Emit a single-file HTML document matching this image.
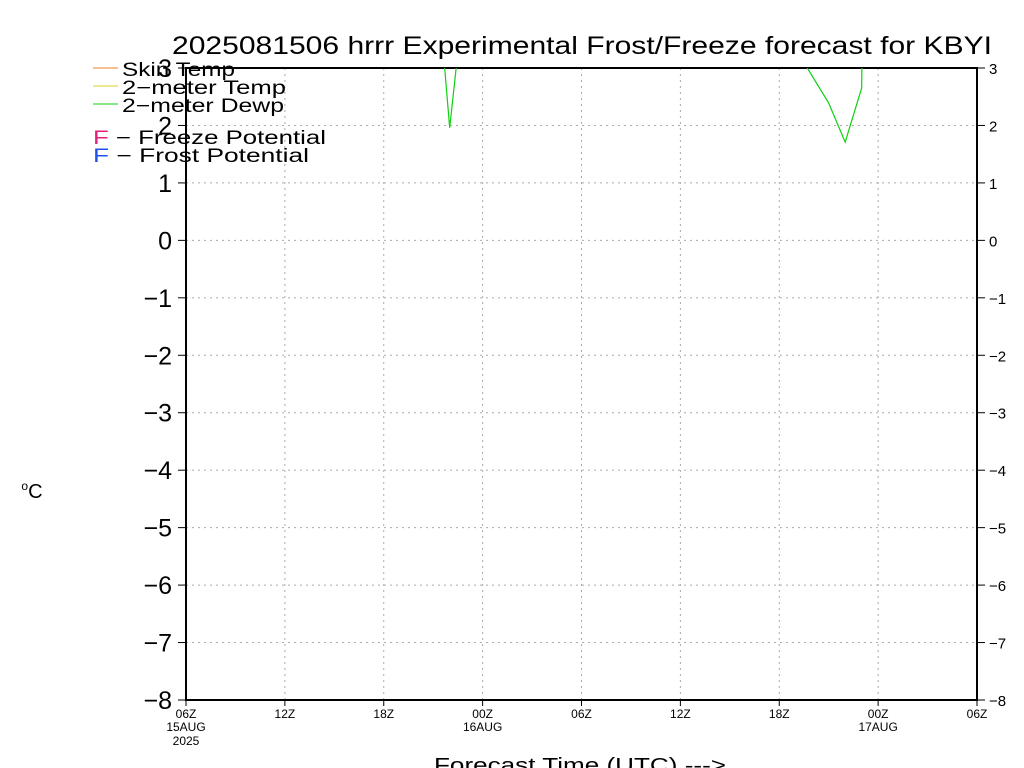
<!DOCTYPE html>
<html><head><meta charset="utf-8"><style>
body{margin:0;background:#fff;width:1024px;height:768px;overflow:hidden}
svg{display:block;font-family:"Liberation Sans",sans-serif}
</style></head><body>
<svg id="chart" width="1024" height="768">
<defs><clipPath id="clip"><rect x="186" y="68" width="791" height="632"/></clipPath></defs>
<text x="172" y="54" font-size="25" textLength="820" lengthAdjust="spacingAndGlyphs">2025081506 hrrr Experimental Frost/Freeze forecast for KBYI</text>
<g id="grid"></g>
<g id="axes"></g>
<g id="series" clip-path="url(#clip)"></g>
<text x="32" y="498" font-size="20" text-anchor="middle"><tspan font-size="12" dy="-8">o</tspan><tspan dy="8">C</tspan></text>
<text x="434" y="772" font-size="20" textLength="292" lengthAdjust="spacingAndGlyphs">Forecast Time (UTC) ---&gt;</text>
<g font-size="19">
<line x1="93" y1="68" x2="118" y2="68" stroke="#f08020"/>
<text x="122" y="76" textLength="113" lengthAdjust="spacingAndGlyphs">Skin Temp</text>
<line x1="93" y1="86" x2="118" y2="86" stroke="#e0d020"/>
<text x="122" y="94" textLength="164" lengthAdjust="spacingAndGlyphs">2−meter Temp</text>
<line x1="93" y1="104" x2="118" y2="104" stroke="#10d010"/>
<text x="122" y="112" textLength="162" lengthAdjust="spacingAndGlyphs">2−meter Dewp</text>
<text x="93" y="144" textLength="233" lengthAdjust="spacingAndGlyphs"><tspan fill="#e0207a">F</tspan>  −  Freeze Potential</text>
<text x="93" y="162" textLength="216" lengthAdjust="spacingAndGlyphs"><tspan fill="#2050f0">F</tspan>  −  Frost Potential</text>
</g>
</svg>
<script>
const yTicks=[3,2,1,0,-1,-2,-3,-4,-5,-6,-7,-8];
const xTickHours=[0,6,12,18,24,30,36,42,48];
const xTickLabels=["06Z","12Z","18Z","00Z","06Z","12Z","18Z","00Z","06Z"];
const xTickDates=["15AUG","","","16AUG","","","","17AUG",""];
const dewHours=[13,14,15,16,17,18,35,36,37,38,39,40,41,42];
const dewValues=[8,7,5.4,1.96,4.6,7,4.5,3.8,3.33,2.86,2.39,1.71,2.65,25];
const NS="http://www.w3.org/2000/svg";
const X0=186,X1=977,Y0=68,Y1=700;
const xs=h=>X0+(X1-X0)*h/48;
const ys=v=>Y0+(Y1-Y0)*(3-v)/11;
function mk(tag,attrs,parent,txt){const e=document.createElementNS(NS,tag);for(const k in attrs)e.setAttribute(k,attrs[k]);if(txt!==undefined)e.textContent=txt;parent.appendChild(e);return e;}
const grid=document.getElementById('grid'),axes=document.getElementById('axes'),series=document.getElementById('series');
yTicks.forEach(v=>{const y=ys(v);
 const g=mk('line',{x1:X0,x2:X1,y1:y,y2:y,stroke:'#aaa','stroke-dasharray':'2,4'},grid);
 
 
 mk('line',{x1:X0-8,x2:X0,y1:y,y2:y,stroke:'#000'},axes);
 mk('line',{x1:X1,x2:X1+8,y1:y,y2:y,stroke:'#000'},axes);
 const lbl=(v<0?'−':'')+Math.abs(v);
 const t=mk('text',{x:X0-14,y:y+9,'font-size':25,'text-anchor':'end'},axes,lbl);
 
 
 const t2=mk('text',{x:X1+12,y:y+6,'font-size':15},axes,lbl);
 
 
});
xTickHours.forEach((h,i)=>{const x=xs(h);
 const g=mk('line',{x1:x,x2:x,y1:Y0,y2:Y1,stroke:'#aaa','stroke-dasharray':'2,4'},grid);
 
 
 mk('line',{x1:x,x2:x,y1:Y1,y2:Y1+6,stroke:'#000'},axes);
 const t=mk('text',{x:x,y:Y1+18,'font-size':12,'text-anchor':'middle'},axes,xTickLabels[i]);
 
 
 if(xTickDates[i]){const d=mk('text',{x:x,y:Y1+31,'font-size':12,'text-anchor':'middle'},axes,xTickDates[i]);
  
  }
});
const yr=mk('text',{x:xs(0),y:Y1+45,'font-size':12,'text-anchor':'middle'},axes,'2025');


const fr=mk('rect',{x:X0,y:Y0,width:X1-X0,height:Y1-Y0,fill:'none',stroke:'#000','stroke-width':2},axes);


const pts=dewHours.map((h,i)=>xs(h)+','+ys(dewValues[i])).join(' ');
const pl=mk('polyline',{points:pts,fill:'none',stroke:'#10d010','stroke-width':1.2},series);


</script>
</body></html>
